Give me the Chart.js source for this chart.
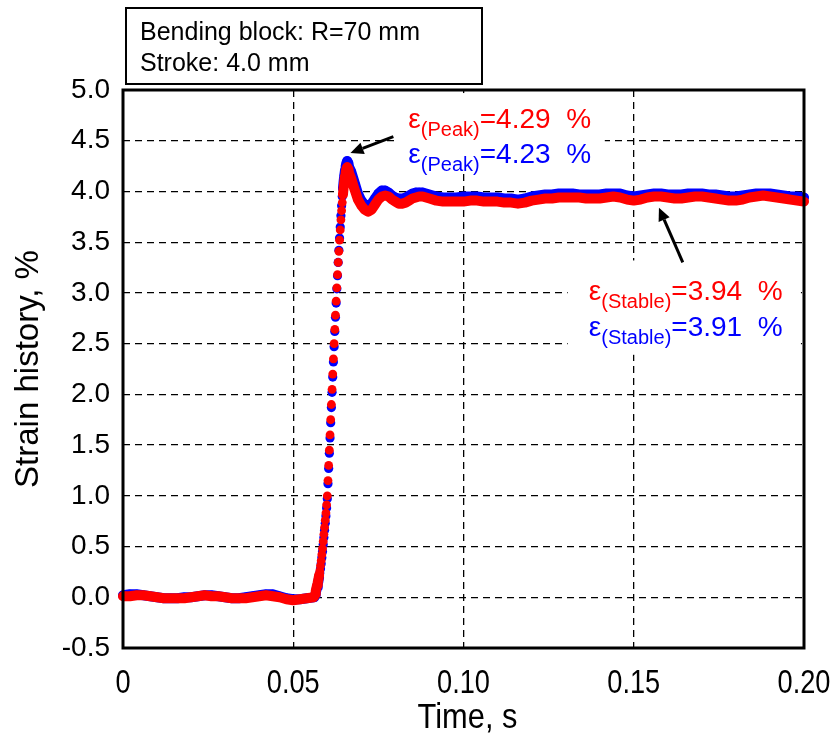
<!DOCTYPE html>
<html>
<head>
<meta charset="utf-8">
<script src="https://cdn.jsdelivr.net/npm/chart.js@4.4.1/dist/chart.umd.min.js"></script>
<style>
  html, body { margin: 0; padding: 0; background: #fff; }
  #wrap { width: 831px; height: 740px; }
</style>
</head>
<body>
<div id="wrap"><canvas id="c" width="831" height="740"></canvas></div>
<script>
// time, s (dense sampling only where the rise shows separate markers)
const timeS = [
  0, 0.002, 0.004, 0.006, 0.008, 0.010, 0.012, 0.014, 0.016, 0.018,
  0.020, 0.022, 0.024, 0.026, 0.028, 0.030, 0.032, 0.034, 0.036, 0.038,
  0.040, 0.042, 0.044, 0.046, 0.048, 0.050, 0.052, 0.054,
  0.0560, 0.0562, 0.0564, 0.0566, 0.0568, 0.0570, 0.0572, 0.0574, 0.0576, 0.0578,
  0.0580, 0.0582, 0.0584, 0.0586, 0.0588, 0.0590, 0.0592, 0.0594, 0.0596, 0.0598,
  0.0600, 0.0602, 0.0604, 0.0606, 0.0608, 0.0610, 0.0612, 0.0614, 0.0616, 0.0618,
  0.0620, 0.0622, 0.0624, 0.0626, 0.0628, 0.0630, 0.0632, 0.0634, 0.0636, 0.0638,
  0.0640, 0.0642, 0.0644, 0.0646, 0.0648, 0.0650, 0.0652, 0.0654, 0.0656, 0.0658,
  0.0660, 0.0662, 0.0664,
  0.067, 0.068, 0.069, 0.070, 0.071, 0.072, 0.073, 0.074, 0.075, 0.076,
  0.077, 0.078, 0.079, 0.080, 0.081, 0.082, 0.083, 0.084, 0.085, 0.086,
  0.087, 0.088, 0.089, 0.090,
  0.092, 0.094, 0.096, 0.098, 0.100, 0.102, 0.104, 0.106, 0.108, 0.110,
  0.112, 0.114, 0.116, 0.118, 0.120, 0.122, 0.124, 0.126, 0.128, 0.130,
  0.132, 0.134, 0.136, 0.138, 0.140, 0.142, 0.144, 0.146, 0.148, 0.150,
  0.152, 0.154, 0.156, 0.158, 0.160, 0.162, 0.164, 0.166, 0.168, 0.170,
  0.172, 0.174, 0.176, 0.178, 0.180, 0.182, 0.184, 0.186, 0.188, 0.190,
  0.192, 0.194, 0.196, 0.198, 0.200
];

// strain history, % (red run)
const redStrain = [
  0.01, 0.01, 0.02, 0.02, 0.01, 0.00, -0.01, -0.01, -0.01, -0.01,
  0.00, 0.01, 0.02, 0.01, 0.01, 0.00, -0.01, -0.01, -0.01, 0.00,
  0.01, 0.02, 0.01, 0.00, -0.02, -0.03, -0.02, -0.01,
  0.00, 0.01, 0.03, 0.06, 0.09, 0.12, 0.15, 0.18, 0.22, 0.26,
  0.31, 0.36, 0.42, 0.48, 0.55, 0.62, 0.69, 0.76, 0.83, 0.91,
  1.00, 1.15, 1.30, 1.45, 1.60, 1.75, 1.90, 2.05, 2.20, 2.35,
  2.50, 2.64, 2.78, 2.92, 3.05, 3.18, 3.30, 3.41, 3.52, 3.62,
  3.72, 3.81, 3.89, 3.97, 4.04, 4.10, 4.15, 4.19, 4.22, 4.24,
  4.24, 4.22, 4.18,
  4.13, 4.02, 3.92, 3.86, 3.82, 3.80, 3.82, 3.87, 3.92, 3.95,
  3.96, 3.95, 3.92, 3.90, 3.88, 3.88, 3.89, 3.91, 3.93, 3.94,
  3.95, 3.95, 3.94, 3.93,
  3.91, 3.90, 3.90, 3.90, 3.90, 3.91, 3.91, 3.90, 3.90, 3.90,
  3.89, 3.89, 3.88, 3.89, 3.91, 3.92, 3.93, 3.93, 3.94, 3.94,
  3.94, 3.94, 3.93, 3.93, 3.93, 3.94, 3.95, 3.94, 3.92, 3.91,
  3.92, 3.94, 3.95, 3.95, 3.94, 3.93, 3.93, 3.94, 3.95, 3.95,
  3.94, 3.93, 3.92, 3.91, 3.91, 3.92, 3.94, 3.95, 3.96, 3.95,
  3.94, 3.93, 3.92, 3.91, 3.90
];

// strain history, % (blue run)
const blueStrain = [
  0.02, 0.03, 0.03, 0.02, 0.01, 0.00, -0.01, -0.01, -0.01, 0.00,
  0.00, 0.01, 0.02, 0.02, 0.01, 0.00, -0.01, -0.01, 0.00, 0.01,
  0.02, 0.03, 0.03, 0.01, -0.01, -0.02, -0.02, -0.01,
  0.00, 0.00, 0.02, 0.04, 0.07, 0.10, 0.13, 0.16, 0.20, 0.24,
  0.28, 0.33, 0.39, 0.45, 0.52, 0.59, 0.66, 0.73, 0.80, 0.88,
  0.97, 1.12, 1.27, 1.42, 1.57, 1.72, 1.87, 2.02, 2.17, 2.32,
  2.47, 2.62, 2.76, 2.90, 3.04, 3.17, 3.30, 3.42, 3.54, 3.65,
  3.76, 3.86, 3.95, 4.03, 4.10, 4.16, 4.21, 4.25, 4.28, 4.30,
  4.30, 4.28, 4.24,
  4.20, 4.09, 3.98, 3.91, 3.87, 3.86, 3.88, 3.93, 3.98, 4.01,
  4.01, 3.99, 3.96, 3.94, 3.93, 3.93, 3.94, 3.96, 3.98, 3.99,
  3.99, 3.99, 3.98, 3.97,
  3.95, 3.94, 3.94, 3.94, 3.95, 3.95, 3.95, 3.94, 3.94, 3.94,
  3.93, 3.93, 3.92, 3.93, 3.95, 3.96, 3.97, 3.97, 3.98, 3.98,
  3.98, 3.97, 3.97, 3.97, 3.97, 3.98, 3.98, 3.98, 3.96, 3.95,
  3.96, 3.97, 3.98, 3.98, 3.97, 3.97, 3.97, 3.98, 3.98, 3.98,
  3.97, 3.97, 3.96, 3.95, 3.95, 3.96, 3.97, 3.98, 3.98, 3.98,
  3.97, 3.96, 3.95, 3.95, 3.94
];

const xTicks = [0, 0.05, 0.10, 0.15, 0.20];
const xTickLabels = ['0', '0.05', '0.10', '0.15', '0.20'];
const xTitle = 'Time, s';

const peakLabels = [['=4.29  %', 'red'], ['=4.23  %', 'blue']];
const stableLabels = [['=3.94  %', 'red'], ['=3.91  %', 'blue']];
const infoLines = ['Bending block: R=70 mm', 'Stroke: 4.0 mm'];

const FONT = "'Liberation Sans', Arial, sans-serif";

function points(vals) {
  return timeS.map((t, i) => ({ x: t, y: vals[i] }));
}

// the rise is drawn as separate markers, the rest as a thick band
function bandColor(color) {
  return ctx => (ctx.p0.parsed.x >= 0.0576 && ctx.p1.parsed.x <= 0.0646) ? 'rgba(0,0,0,0)' : color;
}

function drawEps(ctx, x, y, sub, rest, color) {
  ctx.fillStyle = color;
  ctx.textBaseline = 'alphabetic';
  ctx.textAlign = 'left';
  ctx.font = '28px ' + FONT;
  ctx.fillText('\u03b5', x, y);
  let cx = x + ctx.measureText('\u03b5').width;
  ctx.font = '20px ' + FONT;
  ctx.fillText(sub, cx, y + 8);
  cx += ctx.measureText(sub).width;
  ctx.font = '28px ' + FONT;
  ctx.fillText(rest, cx, y);
}

function arrow(ctx, x1, y1, x2, y2) {
  const a = Math.atan2(y2 - y1, x2 - x1);
  const hl = 13, hw = 6;
  const bx = x2 - hl * Math.cos(a), by = y2 - hl * Math.sin(a);
  ctx.strokeStyle = '#000';
  ctx.fillStyle = '#000';
  ctx.lineWidth = 3;
  ctx.beginPath();
  ctx.moveTo(x1, y1);
  ctx.lineTo(bx, by);
  ctx.stroke();
  ctx.beginPath();
  ctx.moveTo(x2, y2);
  ctx.lineTo(bx + hw * Math.sin(a), by - hw * Math.cos(a));
  ctx.lineTo(bx - hw * Math.sin(a), by + hw * Math.cos(a));
  ctx.closePath();
  ctx.fill();
}

// narrow text, as the x axis labels in the original
function narrowText(ctx, text, x, y, size, sx) {
  ctx.save();
  ctx.translate(x, y);
  ctx.scale(sx, 1);
  ctx.font = size + 'px ' + FONT;
  ctx.fillStyle = '#000';
  ctx.textAlign = 'center';
  ctx.textBaseline = 'middle';
  ctx.fillText(text, 0, 0);
  ctx.restore();
}

const notes = {
  id: 'notes',
  beforeDatasetsDraw(chart) {
    const { ctx, scales: { x, y } } = chart;
    ctx.save();
    ctx.fillStyle = '#fff';
    // white boxes behind the value labels hide the grid
    let l = x.getPixelForValue(0.0809), r = x.getPixelForValue(0.1415);
    let t = y.getPixelForValue(4.97), b = y.getPixelForValue(4.18);
    ctx.fillRect(l, t, r - l, b - t);
    l = x.getPixelForValue(0.1306); r = x.getPixelForValue(0.1991);
    t = y.getPixelForValue(3.32); b = y.getPixelForValue(2.39);
    ctx.fillRect(l, t, r - l, b - t);
    ctx.restore();
  },
  afterDatasetsDraw(chart) {
    const { ctx, chartArea: a, scales: { x, y } } = chart;
    ctx.save();
    ctx.strokeStyle = '#000';
    ctx.lineWidth = 3;
    ctx.strokeRect(a.left, a.top, a.right - a.left, a.bottom - a.top);

    const px = x.getPixelForValue(0.0838);
    drawEps(ctx, px, y.getPixelForValue(4.625), '(Peak)', peakLabels[0][0], peakLabels[0][1]);
    drawEps(ctx, px, y.getPixelForValue(4.28), '(Peak)', peakLabels[1][0], peakLabels[1][1]);
    const sx = x.getPixelForValue(0.1368);
    drawEps(ctx, sx, y.getPixelForValue(2.93), '(Stable)', stableLabels[0][0], stableLabels[0][1]);
    drawEps(ctx, sx, y.getPixelForValue(2.58), '(Stable)', stableLabels[1][0], stableLabels[1][1]);

    arrow(ctx, x.getPixelForValue(0.0794), y.getPixelForValue(4.54),
               x.getPixelForValue(0.0668), y.getPixelForValue(4.38));
    arrow(ctx, x.getPixelForValue(0.1644), y.getPixelForValue(3.30),
               x.getPixelForValue(0.1574), y.getPixelForValue(3.84));

    // x axis labels and title
    xTicks.forEach((v, i) => narrowText(ctx, xTickLabels[i], x.getPixelForValue(v), a.bottom + 36, 34, 0.8));
    narrowText(ctx, xTitle, (a.left + a.right) / 2 + 4, a.bottom + 70, 35, 0.88);

    // info box above the plot
    ctx.fillStyle = '#fff';
    ctx.fillRect(126, 8, 356, 76);
    ctx.lineWidth = 2;
    ctx.strokeRect(126, 8, 356, 76);
    ctx.fillStyle = '#000';
    ctx.font = '25px ' + FONT;
    ctx.textAlign = 'left';
    ctx.textBaseline = 'alphabetic';
    ctx.fillText(infoLines[0], 140, 40);
    ctx.fillText(infoLines[1], 140, 71);
    ctx.restore();
  }
};

new Chart(document.getElementById('c'), {
  type: 'scatter',
  data: {
    datasets: [
      {
        label: 'red',
        data: points(redStrain),
        showLine: true,
        borderColor: '#ff0000',
        backgroundColor: '#ff0000',
        borderWidth: 10,
        borderCapStyle: 'round',
        borderJoinStyle: 'round',
        pointRadius: 4.4,
        pointBorderWidth: 0,
        segment: { borderColor: bandColor('#ff0000') },
        clip: 6
      },
      {
        label: 'blue',
        data: points(blueStrain),
        showLine: true,
        borderColor: '#0000ff',
        backgroundColor: '#0000ff',
        borderWidth: 10,
        borderCapStyle: 'round',
        borderJoinStyle: 'round',
        pointRadius: 4.6,
        pointBorderWidth: 0,
        segment: { borderColor: bandColor('#0000ff') },
        clip: 6
      }
    ]
  },
  options: {
    responsive: false,
    animation: false,
    layout: { padding: { top: 90, right: 27, left: 0, bottom: 0 } },
    plugins: { legend: { display: false }, tooltip: { enabled: false } },
    scales: {
      x: {
        type: 'linear',
        min: 0,
        max: 0.2,
        afterBuildTicks: s => { s.ticks = xTicks.map(v => ({ value: v })); },
        afterFit: s => { s.height = 92; },
        grid: { color: '#000', lineWidth: 1.3, drawTicks: false },
        border: { display: false, dash: [7, 5] },
        ticks: { display: false },
        title: { display: false }
      },
      y: {
        min: -0.5,
        max: 5.0,
        afterFit: s => { s.width = 123; },
        grid: { color: '#000', lineWidth: 1.3, drawTicks: false },
        border: { display: false, dash: [7, 5] },
        ticks: {
          stepSize: 0.5,
          padding: 13,
          color: '#000',
          font: { family: FONT, size: 28 },
          callback: v => v.toFixed(1)
        },
        title: {
          display: true,
          text: 'Strain history, %',
          color: '#000',
          font: { family: FONT, size: 33 },
          padding: { top: 9, bottom: 0 }
        }
      }
    }
  },
  plugins: [notes]
});
</script>
</body>
</html>
